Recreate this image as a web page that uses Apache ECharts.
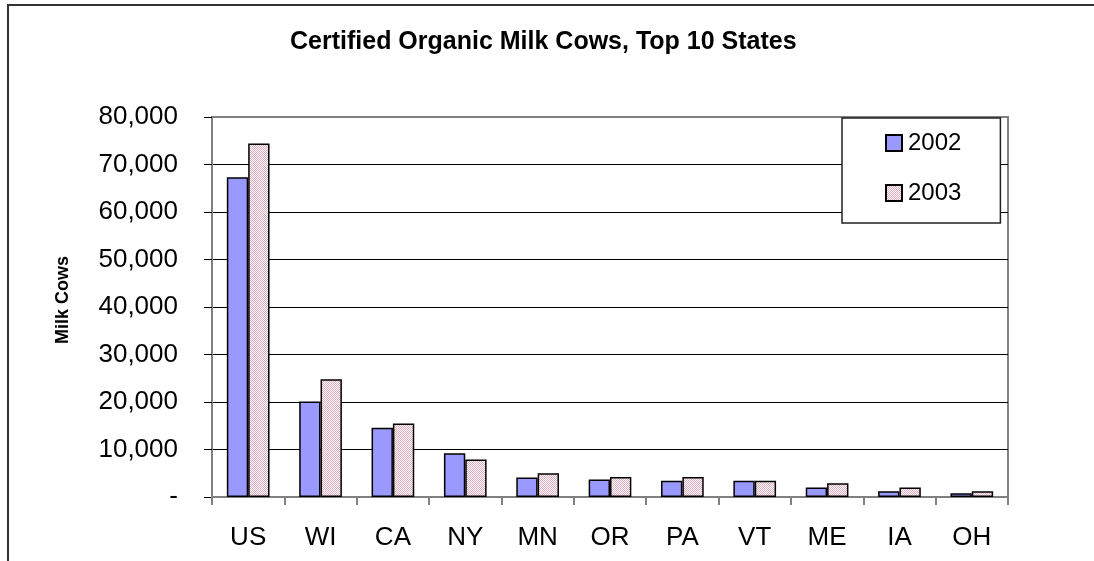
<!DOCTYPE html>
<html>
<head>
<meta charset="utf-8">
<script src="https://cdn.jsdelivr.net/npm/echarts@6/dist/echarts.min.js"></script>
<style>
html,body{margin:0;padding:0;background:#fff;}
#chart{width:1094px;height:561px;}
</style>
</head>
<body>
<div id="chart"></div>
<script>
const states = ['US','WI','CA','NY','MN','OR','PA','VT','ME','IA','OH'];
const cows2002 = [67300,20100,14600,9200,4100,3700,3400,3400,2000,1200,800];
const cows2003 = [74400,24800,15500,7900,5000,4200,4200,3400,2900,2000,1200];
const yTicks = [0,10000,20000,30000,40000,50000,60000,70000,80000];

const FONT = 'Liberation Sans, Arial, sans-serif';

// dotted pink pattern for 2003
const pc = document.createElement('canvas');
pc.width = 2; pc.height = 2;
const pctx = pc.getContext('2d');
pctx.fillStyle = '#ffffff'; pctx.fillRect(0,0,2,2);
pctx.fillStyle = '#E0ABBF';
pctx.fillRect(0,0,1,1); pctx.fillRect(1,1,1,1);

const chart = echarts.init(document.getElementById('chart'), null, {renderer:'canvas'});
chart.setOption({
  animation:false,
  backgroundColor:'#fff',
  title:{
    text:'Certified Organic Milk Cows, Top 10 States',
    left:285, top:25,
    textStyle:{fontFamily:FONT, fontWeight:'bold', fontSize:25, color:'#000'}
  },
  graphic:[{
    type:'rect', z:-1,
    shape:{x:8,y:5,width:1200,height:700},
    style:{fill:'none', stroke:'#333', lineWidth:2}
  },{
    type:'text', x:63, y:300, rotation:Math.PI/2,
    style:{text:'Milk Cows', fontFamily:FONT, fontWeight:'bold', fontSize:18, fill:'#000', align:'center', verticalAlign:'middle'}
  }],
  legend:{
    orient:'vertical',
    left:842, top:118,
    backgroundColor:'#fff',
    borderColor:'#222', borderWidth:1.5,
    padding:[13,39,18,43],
    itemGap:26,
    itemWidth:16, itemHeight:16,
    icon:'rect',
    textStyle:{fontFamily:FONT, fontSize:24, color:'#000', padding:[0,0,0,1]},
    data:['2002','2003']
  },
  grid:{
    left:212, right:86, top:117, bottom:64,
    show:true, borderColor:'#808080', borderWidth:2, backgroundColor:'#fff'
  },
  xAxis:{
    type:'category',
    data:states,
    axisLine:{show:true, lineStyle:{color:'#808080', width:2}},
    axisTick:{show:true, length:8, lineStyle:{color:'#808080', width:2}},
    axisLabel:{fontFamily:FONT, fontSize:26, color:'#000', margin:28}
  },
  yAxis:{
    type:'value',
    min:yTicks[0], max:yTicks[yTicks.length-1], interval:10000,
    axisLine:{show:true, lineStyle:{color:'#808080', width:2}},
    axisTick:{show:true, length:8, lineStyle:{color:'#000', width:1}},
    axisLabel:{
      fontFamily:FONT, fontSize:26, color:'#000', margin:34,
      formatter:function(v){ return v===0 ? '-' : v.toLocaleString('en-US'); }
    },
    splitLine:{show:true, lineStyle:{color:['#000','#000','#000','#000','#000','#000','#000','#000','#808080'], width:1}}
  },
  series:[
    {
      name:'2002', type:'bar', data:cows2002,
      barGap:'0%', barCategoryGap:'41%',
      itemStyle:{color:'#9999FF', borderColor:'#000', borderWidth:1.5}
    },
    {
      name:'2003', type:'bar', data:cows2003,
      barGap:'0%', barCategoryGap:'41%',
      itemStyle:{color:{image:pc, repeat:'repeat'}, borderColor:'#000', borderWidth:1.5}
    }
  ]
});
</script>
</body>
</html>
